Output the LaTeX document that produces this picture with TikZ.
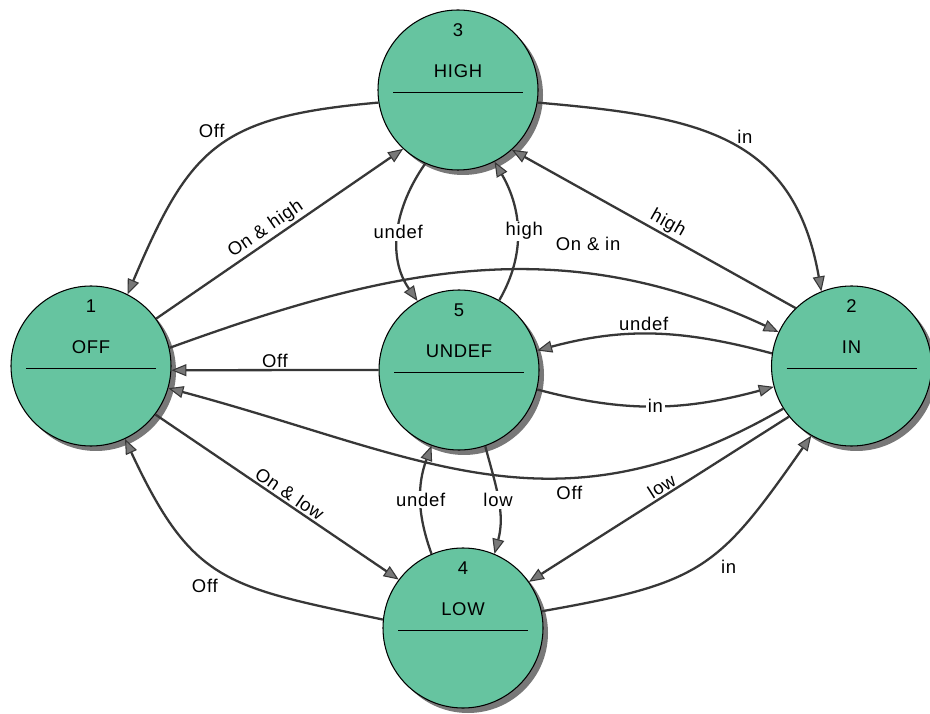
\documentclass[tikz,border=0pt]{standalone}
\usepackage{fontspec}
\setmainfont{Liberation Sans}[LetterSpace=4]
\usetikzlibrary{arrows.meta,shadows}
\definecolor{stategreen}{RGB}{102,196,160}
\definecolor{linegray}{RGB}{55,55,55}
\definecolor{tipgray}{RGB}{120,120,120}
\definecolor{shadowgray}{RGB}{120,120,120}
\tikzstyle{state}=[circle,draw=black,fill=stategreen,line width=0.6pt,
                   inner sep=0pt,minimum size=3.2cm,
                   drop shadow={shadow xshift=0.1cm,shadow yshift=-0.1cm,
                                fill=shadowgray,opacity=1},
                   path picture={\draw[line width=0.9pt]
                     ([xshift=-1.3cm,yshift=-0.05cm]path picture bounding box.center)
                     -- ++(2.6,0);}]
\tikzstyle{stnum}=[anchor=center,yshift=-0.42cm]
\tikzstyle{sttitle}=[anchor=center,yshift=-1.24cm]
\tikzstyle{trans}=[draw=linegray,line width=1.3pt,
                   -{Triangle[length=0.3cm,width=0.24cm,line width=0.6pt,fill=tipgray]}]
\tikzstyle{elabel}=[inner sep=1pt]
\tikzstyle{onlabel}=[fill=white,inner sep=1pt]

\begin{document}
\begin{tikzpicture}[font=\fontsize{10.5}{12.6}\selectfont]
    \fill[white] (0,0) rectangle (18.6,14.26);
    \useasboundingbox (0,0) rectangle (18.6,14.26);
    % states
    \node (n1) at (1.82,6.94) [state,label={[stnum]90:1},label={[sttitle]90:OFF}]{};
    \node (n2) at (17.03,6.94) [state,label={[stnum]90:2},label={[sttitle]90:IN}]{};
    \node (n3) at (9.16,12.46) [state,label={[stnum]90:3},label={[sttitle]90:HIGH}]{};
    \node (n4) at (9.26,1.70) [state,label={[stnum]90:4},label={[sttitle]90:LOW}]{};
    \node (n5) at (9.18,6.86) [state,label={[stnum]90:5},label={[sttitle]90:UNDEF}]{};
    % transitions
    \draw[trans] (n3.189) to[out=185,in=67,looseness=1.3]
        node[elabel,pos=.45,above left] {Off} (n1.63);
    \draw[trans] (n1.36) -- node[elabel,pos=.47,sloped,above] {On \& high} (n3.227);
    \draw[trans] (n3.351) to[out=-5,in=100,looseness=1.2]
        node[elabel,pos=.52,above right] {in} (n2.112);
    \draw[trans] (n2.134) -- node[elabel,pos=.47,sloped,above] {high} (n3.312);
    \draw[trans] (n3.246) to[out=235,in=125] node[onlabel] {undef} (n5.121);
    \draw[trans] (n5.60) to[out=60,in=300] node[onlabel,xshift=4pt] {high} (n3.297);
    \draw[trans] (n1.13) to[out=20,in=155] node[elabel,pos=.69,above=12pt] {On \& in} (n2.155);
    \draw[trans] (n2.171) to[out=165,in=15] node[elabel,pos=.55,above] {undef} (n5.14);
    \draw[trans] (n5.346) to[out=-15,in=195] node[onlabel] {in} (n2.195);
    \draw[trans] (n5.180) -- node[elabel,above] {Off} (n1.357);
    \draw[trans] (n2.212) to[out=210,in=-15,looseness=1.1]
        node[elabel,pos=.35,below=3pt] {Off} (n1.344);
    \draw[trans] (n1.323) -- node[elabel,pos=.53,sloped,above] {On \& low} (n4.143);
    \draw[trans] (n4.174) to[out=168,in=295,looseness=1.3]
        node[elabel,pos=.5,below left,yshift=-3pt] {Off} (n1.295);
    \draw[trans] (n4.113) to[out=110,in=250] node[onlabel] {undef} (n5.250);
    \draw[trans] (n5.289) to[out=285,in=75] node[onlabel] {low} (n4.67);
    \draw[trans] (n2.219) -- node[elabel,pos=.47,sloped,above] {low} (n4.35);
    \draw[trans] (n4.12) to[out=10,in=235,looseness=1.3]
        node[elabel,pos=.58,below right,yshift=-4pt] {in} (n2.240);
\end{tikzpicture}
\end{document}
